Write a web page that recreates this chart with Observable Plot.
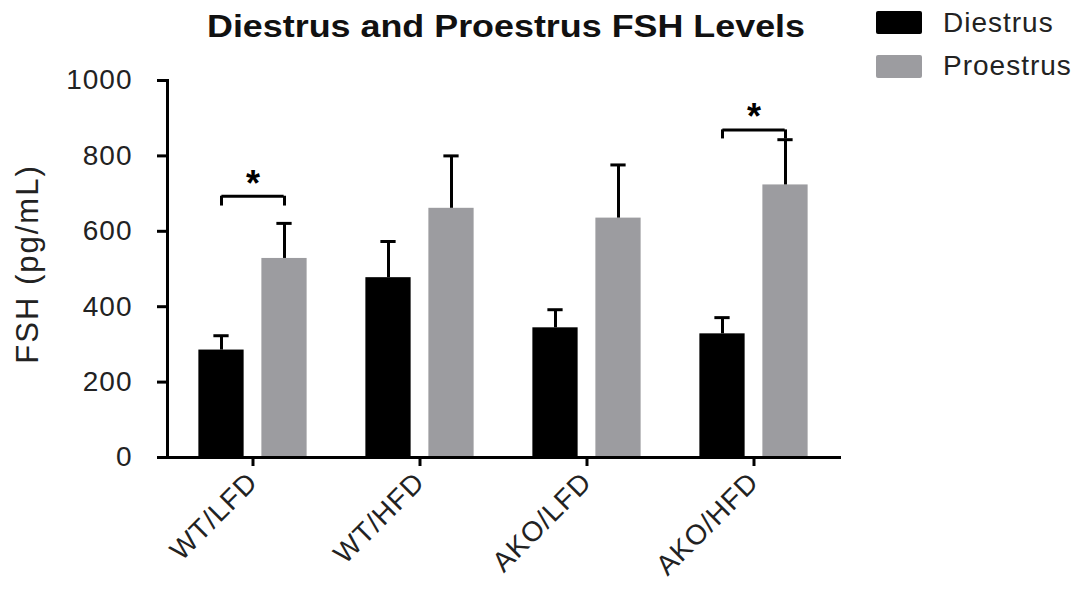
<!DOCTYPE html>
<html>
<head>
<meta charset="utf-8">
<script src="https://cdn.jsdelivr.net/npm/d3@7"></script>
<script src="https://cdn.jsdelivr.net/npm/@observablehq/plot@0.6"></script>
<style>
  html, body { margin: 0; padding: 0; background: #fff; }
  #wrap { position: relative; width: 1078px; height: 592px; overflow: hidden; background: #fff;
          font-family: "Liberation Sans", Arial, Helvetica, sans-serif; color: #111; }
  #chart { position: absolute; left: 0; top: 0; }
  #title { position: absolute; left: 207px; top: 10px; font-size: 32px; line-height: 32px; font-weight: bold;
           white-space: nowrap; transform-origin: 0 0; color: #111; }
  #ylabel { position: absolute; left: 27px; top: 264px; font-size: 31px; line-height: 31px; letter-spacing: 2px;
            white-space: nowrap; color: #222; transform: translate(-50%, -50%) rotate(-90deg); }
  .leg { position: absolute; left: 876px; width: 46px; height: 23px; border-radius: 2px; }
  .legt { position: absolute; left: 943px; font-size: 28px; line-height: 28px; letter-spacing: 1px; white-space: nowrap; color: #222; }
</style>
</head>
<body>
<div id="wrap">
  <div id="chart"></div>
  <div id="title"></div>
  <div id="ylabel"></div>
  <div class="leg" id="leg0" style="top:11px"></div>
  <div class="legt" id="legt0" style="top:9px"></div>
  <div class="leg" id="leg1" style="top:55px"></div>
  <div class="legt" id="legt1" style="top:52px"></div>
</div>
<script>
// ---- data ----
const titleText = "Diestrus and Proestrus FSH Levels";
const yLabel = "FSH (pg/mL)";
const groups = ["WT/LFD", "WT/HFD", "AKO/LFD", "AKO/HFD"];
const seriesNames = ["Diestrus", "Proestrus"];
const seriesColors = ["#000000", "#9c9ca0"];
const diestrus = [285, 477, 344, 328];
const diestrusSem = [38, 96, 48, 43];
const proestrus = [528, 661, 635, 723];
const proestrusSem = [93, 139, 141, 120];
const yTicks = [0, 200, 400, 600, 800, 1000];
// significance brackets: group, bracket level, leg bottom
const sigGroups = ["WT/LFD", "AKO/HFD"];
const sigLevel = [693, 869];
const sigLegBottom = [667, 845];

// ---- build tables ----
const rows = groups.map((g, i) => ({
  group: g,
  d: diestrus[i], dTop: diestrus[i] + diestrusSem[i],
  p: proestrus[i], pTop: proestrus[i] + proestrusSem[i]
}));
const sig = sigGroups.map((g, i) => ({group: g, level: sigLevel[i], leg: sigLegBottom[i]}));

// ---- layout ----
const W = 1078, H = 592;
const mL = 167, mR = 240, mT = 80, mB = 135;
const bw = (W - mL - mR) / groups.length;   // band width
const c = bw / 2;
const barW = 46, off = 31.5, capHalf = 8;
const dIn = [c - off - barW / 2, bw - (c - off - barW / 2) - barW];
const pIn = [c + off - barW / 2, bw - (c + off - barW / 2) - barW];

const chart = Plot.plot({
  width: W, height: H,
  marginTop: mT, marginBottom: mB, marginLeft: mL, marginRight: mR,
  style: {fontFamily: "'Liberation Sans', Arial, Helvetica, sans-serif", fontSize: "28px", color: "#222", background: "transparent", overflow: "visible"},
  x: {domain: groups, padding: 0, tickRotate: -45, tickSize: 9, tickPadding: 11, label: null},
  y: {domain: [0, 1000], ticks: yTicks, tickSize: 10, tickPadding: 25, label: null, line: true, tickFormat: d3.format("d")},
  marks: [
    // bars
    Plot.barY(rows, {x: "group", y: "d", fill: seriesColors[0], insetLeft: dIn[0], insetRight: dIn[1]}),
    Plot.barY(rows, {x: "group", y: "p", fill: seriesColors[1], insetLeft: pIn[0], insetRight: pIn[1]}),
    // error bars (upper only)
    Plot.ruleX(rows, {x: "group", y1: "d", y2: "dTop", dx: -off, stroke: "#000", strokeWidth: 3}),
    Plot.tickY(rows, {x: "group", y: "dTop", dx: -off, insetLeft: c - capHalf, insetRight: c - capHalf, stroke: "#000", strokeWidth: 3}),
    Plot.ruleX(rows, {x: "group", y1: "p", y2: "pTop", dx: off, stroke: "#000", strokeWidth: 3}),
    Plot.tickY(rows, {x: "group", y: "pTop", dx: off, insetLeft: c - capHalf, insetRight: c - capHalf, stroke: "#000", strokeWidth: 3}),
    // significance brackets
    Plot.tickY(sig, {x: "group", y: "level", insetLeft: c - off, insetRight: c - off, stroke: "#000", strokeWidth: 3}),
    Plot.ruleX(sig, {x: "group", y1: "leg", y2: "level", dx: -off, stroke: "#000", strokeWidth: 3}),
    Plot.ruleX(sig, {x: "group", y1: "leg", y2: "level", dx: off, stroke: "#000", strokeWidth: 3}),
    Plot.text(sig, {x: "group", y: "level", text: () => "*", dy: -12, fontSize: 36, fontWeight: "bold", fill: "#000"}),
    // x axis baseline
    Plot.ruleY([0], {stroke: "#000", strokeWidth: 3, insetLeft: -10, insetRight: -3})
  ]
});
document.getElementById("chart").appendChild(chart);

// thicken axis lines and ticks; widen axis text slightly
chart.querySelectorAll("line, path").forEach(el => {
  el.style.strokeWidth = "3px";
  el.style.stroke = "#000";
});
chart.querySelectorAll("text").forEach(el => {
  if (el.textContent !== "*") el.style.letterSpacing = "1px";
});

// title, y label & legend
const t = document.getElementById("title");
t.textContent = titleText;
const tw = t.getBoundingClientRect().width;
t.style.transform = `scaleX(${598 / tw})`;
document.getElementById("ylabel").textContent = yLabel;
seriesNames.forEach((s, i) => {
  document.getElementById("leg" + i).style.background = seriesColors[i];
  document.getElementById("legt" + i).textContent = s;
});
</script>
</body>
</html>
